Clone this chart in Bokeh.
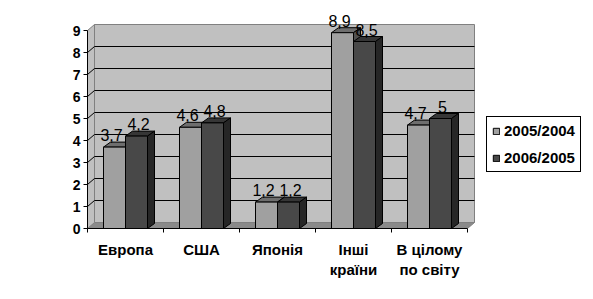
import numpy as np
from bokeh.plotting import figure
from bokeh.models import Range1d, LinearAxis, FixedTicker, Legend, LegendItem
from bokeh.core.properties import value
from bokeh.embed import file_html
from bokeh.resources import INLINE

# ---- data ----
categories = ["Европа", "США", "Японія", "Інші\nкраїни", "В цілому\nпо світу"]
series_names = ["2005/2004", "2006/2005"]
values_2005_2004 = [3.7, 4.6, 1.2, 8.9, 4.7]
values_2006_2005 = [4.2, 4.8, 1.2, 8.5, 5.0]
labels_2005_2004 = ["3,7", "4,6", "1,2", "8,9", "4,7"]
labels_2006_2005 = ["4,2", "4,8", "1,2", "8,5", "5"]
y_ticks = [0, 1, 2, 3, 4, 5, 6, 7, 8, 9]

# ---- styling / geometry constants ----
PX_X = 76.0   # pixels per category
PX_Y = 22.0   # pixels per unit
FRAME_W = 506
FRAME_H = 228
WDX, WDY = 7 / PX_X, 6 / PX_Y     # wall depth offset
BDX, BDY = 7 / PX_X, 5 / PX_Y     # bar depth offset
BAR_W = 22 / PX_X
FONT = "Liberation Sans"
LABEL_XOFF = [-3, 2]

n = len(categories)
x0 = -0.5
x1 = x0 + n
ymax = max(y_ticks)

p = figure(width=593, height=299, output_backend="svg", toolbar_location=None,
           x_range=Range1d(x0, x0 + FRAME_W / PX_X), y_range=Range1d(0, FRAME_H / PX_Y),
           x_axis_type=None, y_axis_type=None,
           min_border_left=87, min_border_right=0, min_border_top=0, min_border_bottom=71)
p.outline_line_color = None
p.background_fill_color = "white"
p.border_fill_color = "white"

# floor
p.patch([x0, x1, x1 + WDX, x0 + WDX], [0, 0, WDY, WDY],
        fill_color="#8a8a8a", line_color="#808080", line_width=1)
# left side wall
p.patch([x0, x0 + WDX, x0 + WDX, x0], [0, WDY, ymax + WDY, ymax],
        fill_color="#c0c0c0", line_color="#808080", line_width=1)
# back wall
p.quad(left=[x0 + WDX], right=[x1 + WDX], bottom=[WDY], top=[ymax + WDY],
       fill_color="#c0c0c0", line_color="#808080", line_width=1)
# gridlines
gk = np.array(y_ticks[1:-1], dtype=float)
p.segment(x0=[x0 + WDX] * len(gk), y0=gk + WDY, x1=[x1 + WDX] * len(gk), y1=gk + WDY,
          line_color="black", line_width=1)
p.segment(x0=[x0] * len(gk), y0=gk, x1=[x0 + WDX] * len(gk), y1=gk + WDY,
          line_color="black", line_width=1)

# bars
centers = np.arange(n, dtype=float)
series = [values_2005_2004, values_2006_2005]
series_labels = [labels_2005_2004, labels_2006_2005]
front_colors = ["#a0a0a0", "#484848"]
top_colors = ["#6e6e6e", "#363636"]
side_colors = ["#505050", "#262626"]
front_renderers = []
label_specs = []
for s, vals in enumerate(series):
    v = np.array(vals, dtype=float)
    left = centers - BAR_W + s * BAR_W
    right = left + BAR_W
    tops_x = [[l, r, r + BDX, l + BDX] for l, r in zip(left, right)]
    tops_y = [[t, t, t + BDY, t + BDY] for t in v]
    p.patches(tops_x, tops_y, fill_color=top_colors[s], line_color="black", line_width=1)
    sides_x = [[r, r + BDX, r + BDX, r] for r in right]
    sides_y = [[0, BDY, t + BDY, t] for t in v]
    p.patches(sides_x, sides_y, fill_color=side_colors[s], line_color="black", line_width=1)
    fr = p.quad(left=left, right=right, bottom=0, top=v,
                fill_color=front_colors[s], line_color="black", line_width=1)
    front_renderers.append(fr)
    label_specs.append(((left + right) / 2, v + BDY, series_labels[s], LABEL_XOFF[s]))

# value labels drawn last
for lx, ly, lt, xo in label_specs:
    p.text(x=lx, y=ly, text=lt,
           text_font=value(FONT), text_font_size="16px", text_color="black",
           text_align="center", text_baseline="bottom", y_offset=-1, x_offset=xo)

# axes
yaxis = LinearAxis(ticker=FixedTicker(ticks=y_ticks), bounds=(0, ymax),
                   axis_line_color="black", major_tick_line_color="black",
                   major_tick_out=4, major_tick_in=0, minor_tick_out=0, minor_tick_in=0,
                   major_label_standoff=3,
                   major_label_text_font=FONT, major_label_text_font_style="bold",
                   major_label_text_font_size="14px", major_label_text_color="black")
p.add_layout(yaxis, "left")

xaxis = LinearAxis(ticker=FixedTicker(ticks=list(range(n)),
                                      minor_ticks=[x0 + i for i in range(n + 1)]),
                   bounds=(x0, x1),
                   axis_line_color="black", major_tick_out=0, major_tick_in=0,
                   minor_tick_line_color="black", minor_tick_out=4, minor_tick_in=0,
                   major_label_standoff=8,
                   major_label_overrides={i: c for i, c in enumerate(categories)},
                   major_label_text_font=FONT, major_label_text_font_style="bold",
                   major_label_text_font_size="15px", major_label_text_color="black")
p.add_layout(xaxis, "below")

legend = Legend(items=[LegendItem(label=series_names[i], renderers=[front_renderers[i]])
                       for i in range(2)],
                location=(399, 56), orientation="vertical",
                border_line_color="black", border_line_width=1, border_line_alpha=1,
                background_fill_color="white", background_fill_alpha=1,
                glyph_width=8, glyph_height=8, label_standoff=4, padding=5, spacing=10,
                label_height=14, label_text_font=FONT, label_text_font_style="bold",
                label_text_font_size="15px", label_text_color="black", margin=0)
p.add_layout(legend)

open("out.html", "w").write(file_html(p, INLINE))
